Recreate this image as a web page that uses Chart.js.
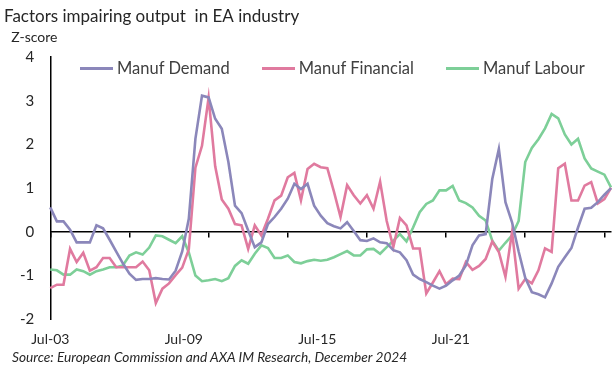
<!DOCTYPE html>
<html>
<head>
<meta charset="utf-8">
<script src="https://cdn.jsdelivr.net/npm/chart.js@4"></script>
<style>
  html, body { margin: 0; padding: 0; background: #fff; }
  #wrap { position: relative; width: 615px; height: 379px; }
  #source { position: absolute; left: 12px; top: 348px; font: italic 13.7px Lato, sans-serif; color: #262626; white-space: nowrap; }
  #legend { position: absolute; left: 80px; top: 58px; height: 20px; display: flex; gap: 32px; font: 16.5px Lato, sans-serif; color: #404040; white-space: nowrap; }
  #legend .item { display: flex; align-items: center; }
  #legend .swatch { width: 33px; height: 3px; margin-right: 4px; }
</style>
</head>
<body>
<div id="wrap">
  <canvas id="chart" width="615" height="379"></canvas>
  <div id="legend"></div>
  <div id="source">Source: European Commission and AXA IM Research, December 2024</div>
</div>
<script>
// quarterly, Q3 2003 .. Q4 2024
const startYear = 2003;
const startQuarter = 2; // 0=Jan, 1=Apr, 2=Jul, 3=Oct
const nQuarters = 86;
const monthNames = ['Jan', 'Apr', 'Jul', 'Oct'];

const tickLabels = ['Jul-03', 'Jul-09', 'Jul-15', 'Jul-21'];

const manufDemand = [
  0.56, 0.24, 0.24, 0.05, -0.24, -0.24, -0.24, 0.15, 0.08, -0.18,
  -0.45, -0.72, -0.96, -1.10, -1.08, -1.08, -1.06, -1.08, -1.09, -0.89,
  -0.45, 0.30, 2.13, 3.12, 3.08, 2.59, 2.36, 1.60, 0.60, 0.43,
  0.03, -0.35, -0.24, 0.18, 0.34, 0.53, 0.76, 1.10, 0.98, 1.10,
  0.60, 0.37, 0.20, 0.13, 0.08, 0.22, 0.02, -0.19, -0.21, -0.15,
  -0.24, -0.26, -0.42, -0.47, -0.65, -0.98, -1.08, -1.15, -1.23, -1.30,
  -1.23, -1.11, -1.00, -0.77, -0.31, -0.08, -0.05, 1.21, 1.90, 0.68,
  0.22, -0.45, -1.05, -1.38, -1.43, -1.50, -1.18, -0.80, -0.58, -0.37,
  0.10, 0.53, 0.55, 0.68, 0.85, 1.00
];

const manufFinancial = [
  -1.29, -1.21, -1.21, -0.39, -0.69, -0.48, -0.89, -0.81, -0.60, -0.60,
  -0.81, -0.81, -0.81, -0.81, -0.68, -0.88, -1.63, -1.30, -1.18, -0.99,
  -0.82, -0.40, 1.47, 1.97, 3.07, 1.50, 0.74, 0.53, 0.18, 0.15,
  -0.39, 0.15, -0.08, 0.30, 0.72, 0.83, 1.25, 1.35, 0.72, 1.44,
  1.56, 1.48, 1.46, 0.92, 0.34, 1.07, 0.84, 0.65, 0.84, 0.53,
  1.15, 0.25, -0.35, 0.32, 0.15, -0.38, -0.38, -1.41, -1.16, -0.90,
  -1.20, -1.07, -1.08, -0.69, -0.87, -0.78, -0.62, -0.22, -0.46, -1.03,
  0.00, -1.30, -1.08, -1.18, -0.88, -0.38, -0.46, 1.46, 1.56, 0.72,
  0.72, 1.06, 1.14, 0.65, 0.75, 1.01
];

const manufLabour = [
  -0.86, -0.88, -0.98, -0.98, -0.86, -0.90, -0.98, -0.90, -0.86, -0.81,
  -0.81, -0.77, -0.54, -0.47, -0.52, -0.36, -0.08, -0.10, -0.18, -0.26,
  -0.10, -0.47, -1.00, -1.13, -1.11, -1.08, -1.13, -1.06, -0.78, -0.65,
  -0.73, -0.50, -0.31, -0.37, -0.60, -0.60, -0.54, -0.69, -0.72, -0.67,
  -0.64, -0.66, -0.64, -0.58, -0.51, -0.44, -0.54, -0.54, -0.40, -0.39,
  -0.50, -0.35, -0.20, -0.05, -0.22, 0.10, 0.45, 0.64, 0.72, 0.95,
  0.95, 1.05, 0.72, 0.66, 0.56, 0.37, 0.26, -0.20, -0.43, -0.25,
  -0.08, 0.25, 1.60, 1.92, 2.12, 2.37, 2.70, 2.60, 2.23, 2.00,
  2.13, 1.68, 1.45, 1.38, 1.31, 1.02
];

const quarters = [];
for (let i = 0; i < nQuarters; i++) {
  const q = startQuarter + i;
  const yr = startYear + Math.floor(q / 4);
  quarters.push(monthNames[q % 4] + '-' + String(yr).slice(2));
}

const textColor = '#262626';
const fontFamily = 'Lato, "Open Sans", sans-serif';

const line = (label, data, color) => ({
  label, data,
  borderColor: color,
  backgroundColor: color,
  borderWidth: 2.6,
  pointRadius: 0,
  tension: 0,
  xAxisID: 'x',
  yAxisID: 'y'
});

const chart = new Chart(document.getElementById('chart'), {
  type: 'line',
  data: {
    labels: quarters,
    datasets: [
      line('Manuf Demand', manufDemand, '#8b87ba'),
      line('Manuf Financial', manufFinancial, '#e07a9f'),
      line('Manuf Labour', manufLabour, '#7dcf98')
    ]
  },
  options: {
    responsive: false,
    animation: false,
    layout: { padding: { left: 4, right: 0, top: 0, bottom: 27 } },
    plugins: {
      title: {
        display: true,
        text: 'Factors impairing output  in EA industry',
        align: 'start',
        color: textColor,
        font: { family: fontFamily, size: 17, weight: 'normal' },
        padding: { top: 6, bottom: 3 }
      },
      subtitle: {
        display: true,
        text: '  Z-score',
        align: 'start',
        color: textColor,
        font: { family: fontFamily, size: 14 },
        padding: { bottom: 11 }
      },
      legend: { display: false },
      tooltip: { enabled: false }
    },
    scales: {
      x: {
        type: 'category',
        position: { y: 0 },
        offset: false,
        ticks: { display: false },
        grid: {
          drawOnChartArea: false,
          drawTicks: true,
          tickLength: 5,
          lineWidth: 1.5,
          color: ctx => (ctx.index % 12 === 0 ? '#000' : 'rgba(0,0,0,0)')
        },
        border: { display: true, color: '#000', width: 1.5 }
      },
      xl: {
        type: 'linear',
        position: 'bottom',
        min: 0,
        max: 4.2,
        grid: { display: false },
        border: { display: false },
        ticks: {
          stepSize: 1,
          padding: 4,
          color: textColor,
          font: { family: fontFamily, size: 14 },
          callback: v => tickLabels[v] || ''
        }
      },
      y: {
        min: -2,
        max: 4,
        ticks: {
          stepSize: 1,
          padding: 16,
          color: textColor,
          font: { family: fontFamily, size: 15 }
        },
        grid: { display: false, drawTicks: false },
        border: { display: true, color: '#000', width: 1.5 }
      }
    }
  }
});

// legend inside the plot, one row
const legendEl = document.getElementById('legend');
chart.data.datasets.forEach(ds => {
  const item = document.createElement('div');
  item.className = 'item';
  const sw = document.createElement('span');
  sw.className = 'swatch';
  sw.style.background = ds.borderColor;
  const txt = document.createElement('span');
  txt.textContent = ds.label;
  item.appendChild(sw);
  item.appendChild(txt);
  legendEl.appendChild(item);
});
</script>
</body>
</html>
